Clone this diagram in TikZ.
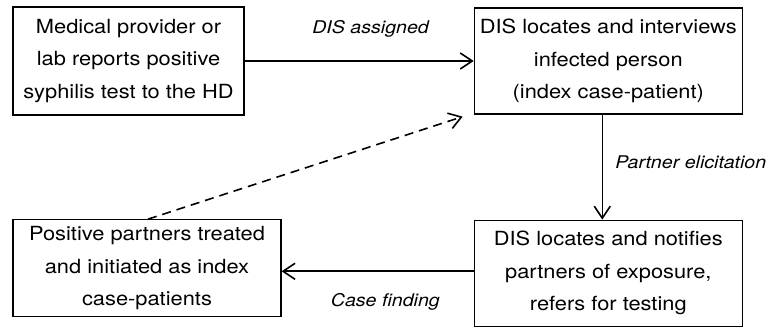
\documentclass[tikz,border=0pt]{standalone}
\usepackage{fontspec}
\setmainfont{TeX Gyre Heros}[FakeStretch=1.12]
\usetikzlibrary{positioning, arrows.meta}

\begin{document}
\begin{tikzpicture}[x=1pt, y=1pt,
                    box/.style={rectangle, draw, line width=1.3pt, align=center, inner sep=0pt,
                                font=\fontsize{19.5}{32.5}\selectfont},
                    flowlabel/.style={font=\fontsize{17.5}{20}\selectfont\itshape},
                    flow/.style={-{Straight Barb[length=12pt,width=16pt]}, line width=1.6pt}]
    \useasboundingbox (0,0) rectangle (771,328);
    \node (report)    [box, minimum width=231pt, minimum height=108pt] at (128.5,267)
                      {Medical provider or\\lab reports positive\\syphilis test to the HD};
    \node (interview) [box, minimum width=268pt, minimum height=106pt, right = 229pt of report]
                      {DIS locates and interviews\\infected person\\(index case-patient)};
    \node (notify)    [box, minimum width=268pt, minimum height=106pt, below = 105pt of interview]
                      {DIS locates and notifies\\partners of exposure,\\refers for testing};
    \node (treated)   [box, minimum width=268pt, minimum height=97pt, left = 192pt of notify, yshift=5pt]
                      {Positive partners treated\\and initiated as index\\case-patients};
    \coordinate (dashend) at ([xshift=-11pt, yshift=-2pt]interview.south west);

    \draw[flow] (report.east) -- (report.east -| interview.west)
          node[flowlabel, pos=0.55, above=20pt] {DIS assigned};
    \draw[flow] ([xshift=-6pt]interview.south) -- ([xshift=-6pt]interview.south |- notify.north)
          node[flowlabel, pos=0.45, right=9pt] {Partner elicitation};
    \draw[flow] ([yshift=2pt]notify.west) -- ([yshift=2pt]notify.west -| treated.east)
          node[flowlabel, pos=0.46, below=18pt] {Case finding};
    \draw[flow, dash pattern=on 9pt off 6pt] ([xshift=1pt]treated.north) -- (dashend);
\end{tikzpicture}
\end{document}
